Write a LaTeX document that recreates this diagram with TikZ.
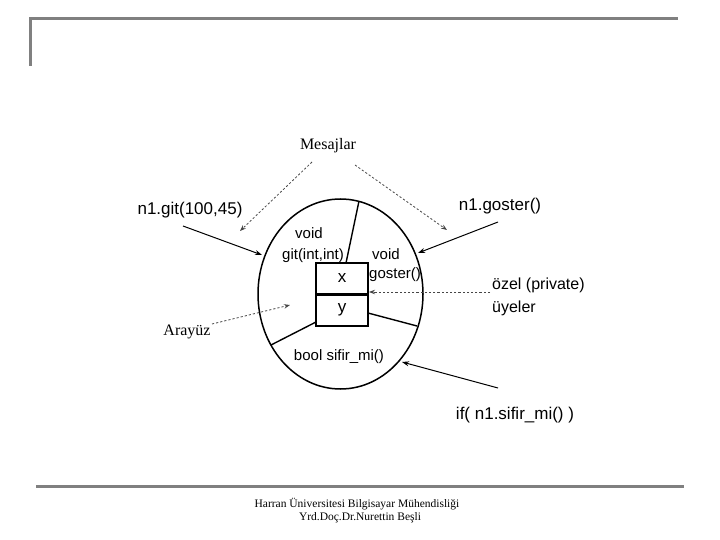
\documentclass[tikz,border=0pt]{standalone}
\usepackage{fontspec}
\setmainfont{Liberation Serif}
\setsansfont{Liberation Sans}
\usetikzlibrary{shapes.geometric,arrows.meta}
\definecolor{framegray}{RGB}{128,128,128}
\definecolor{hintgray}{RGB}{70,70,70}
\begin{document}
\begin{tikzpicture}[x=1pt,y=-1pt,
  frameline/.style={draw=framegray,line width=3pt},
  sanslbl/.style={font=\sffamily\fontsize{17}{19}\selectfont,inner sep=0},
  innerlbl/.style={font=\sffamily\fontsize{15}{17}\selectfont,inner sep=0},
  seriflbl/.style={font=\rmfamily\fontsize{16}{18}\selectfont,inner sep=0},
  footlbl/.style={font=\rmfamily\fontsize{11.5}{13}\selectfont,inner sep=0},
  divider/.style={draw,line width=1.4pt},
  cellbox/.style={draw,line width=1.5pt,minimum width=52pt,inner sep=0,font=\sffamily\fontsize{17}{19}\selectfont},
  msgarrow/.style={draw,line width=1pt,-{Stealth[length=7pt,width=5pt]}},
  hintarrow/.style={draw=hintgray,line width=0.8pt,dash pattern=on 2.2pt off 2pt,-{Stealth[length=6pt,width=4.5pt]}}]
\useasboundingbox (0,0) rectangle (720,540);
% frame
\draw[frameline,line join=miter] (30,66) -- (30,19) -- (678,19);
\draw[frameline] (36,486.5) -- (684,486.5);
% object
\node[draw,ellipse,line width=1.5pt,minimum width=165pt,minimum height=190pt,inner sep=0] (obj) at (340.5,294) {};
\node[cellbox,minimum height=31pt] (xbox) at (342,278.5) {x};
\node[cellbox,minimum height=32pt] (ybox) at (342,310) {y};
\draw[line width=3.2pt] (xbox.south west) -- (xbox.south east);
% dividers
\coordinate (dTop) at (359,201);
\coordinate (dTopIn) at (346,263);
\coordinate (dRight) at (417,326);
\coordinate (dRightIn) at (368,313);
\coordinate (dLeft) at (271,345);
\coordinate (dLeftIn) at (316,322);
\draw[divider] (dTop) -- (dTopIn);
\draw[divider] (dRightIn) -- (dRight);
\draw[divider] (dLeftIn) -- (dLeft);
% inner labels
\node[innerlbl] (v1) at (309,233) {void};
\node[innerlbl] (g1) at (313,256) {git(int,int)};
\node[innerlbl] (v2) at (386,254) {void};
\node[innerlbl] (g2) at (395,275) {goster()};
\node[innerlbl] (bs) at (339,357) {bool sifir\_mi()};
% outer labels
\node[seriflbl] (mes) at (328,146) {Mesajlar};
\node[seriflbl] (ara) at (187,332) {Arayüz};
\node[sanslbl] (ngit) at (190,210) {n1.git(100,45)};
\node[sanslbl] (ngos) at (500,206) {n1.goster()};
\node[sanslbl] (nif) at (515,415) {if( n1.sifir\_mi() )};
\node[innerlbl,font=\sffamily\fontsize{16}{18}\selectfont,anchor=west] (ozel) at (492,285) {özel (private)};
\node[innerlbl,font=\sffamily\fontsize{16}{18}\selectfont,anchor=west] (uye) at (492,308) {üyeler};
% arrow endpoints
\coordinate (mL) at (312,162);
\coordinate (mLe) at (240,231);
\coordinate (mR) at (355,165);
\coordinate (mRe) at (447,230);
\coordinate (gitS) at (183,226);
\coordinate (gitE) at (262,255);
\coordinate (gosS) at (498,222);
\coordinate (gosE) at (418,253);
\coordinate (ozS) at (490,292);
\coordinate (ozE) at (369,292);
\coordinate (arS) at (212,324);
\coordinate (arE) at (290,305);
\coordinate (ifS) at (498,388);
\coordinate (ifE) at (402,362);
\draw[hintarrow] (mL) -- (mLe);
\draw[hintarrow] (mR) -- (mRe);
\draw[hintarrow] (ozS) -- (ozE);
\draw[hintarrow] (arS) -- (arE);
\draw[msgarrow] (gitS) -- (gitE);
\draw[msgarrow] (gosS) -- (gosE);
\draw[msgarrow] (ifS) -- (ifE);
% footer
\node[footlbl] (f1) at (357,504) {Harran Üniversitesi Bilgisayar Mühendisliği};
\node[footlbl] (f2) at (360,518) {Yrd.Doç.Dr.Nurettin Beşli};
\end{tikzpicture}
\end{document}
